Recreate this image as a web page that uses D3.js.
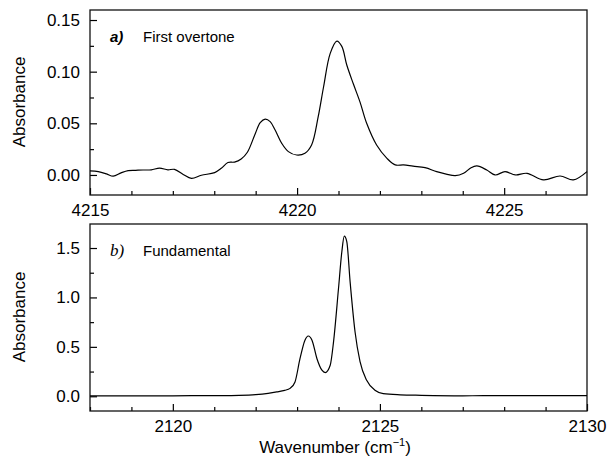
<!DOCTYPE html>
<html><head><meta charset="utf-8">
<script src="https://cdn.jsdelivr.net/npm/d3@7"></script>
<style>
body{margin:0;background:#fff}
svg{display:block}
text{font-family:"Liberation Sans",Arial,Helvetica,sans-serif;fill:#000}
</style>
</head><body>
<svg id="chart" width="607" height="457"></svg>
<script>
// ---- Data ----
const overtoneWavenumber = [4215.00,4215.20,4215.40,4215.56,4215.75,4215.92,4216.10,4216.28,4216.48,4216.68,4216.88,4217.04,4217.25,4217.45,4217.69,4218.01,4218.17,4218.33,4218.49,4218.65,4218.80,4218.99,4219.11,4219.23,4219.35,4219.47,4219.63,4219.79,4219.99,4220.19,4220.35,4220.51,4220.64,4220.80,4220.96,4221.08,4221.20,4221.36,4221.52,4221.68,4221.92,4222.17,4222.37,4222.57,4222.80,4223.09,4223.37,4223.60,4223.82,4224.02,4224.20,4224.34,4224.58,4224.78,4225.02,4225.27,4225.55,4225.95,4226.35,4226.67,4227.00];
const overtoneAbsorbance = [0.0040,0.0032,0.0010,-0.0012,0.0020,0.0042,0.0045,0.0048,0.0050,0.0066,0.0050,0.0054,0.0005,-0.0033,-0.0003,0.0023,0.0064,0.0120,0.0125,0.0155,0.0220,0.0400,0.0506,0.0540,0.0516,0.0435,0.0306,0.0226,0.0193,0.0210,0.0290,0.0564,0.0854,0.1177,0.1296,0.1245,0.1065,0.0880,0.0705,0.0500,0.0290,0.0161,0.0097,0.0097,0.0085,0.0071,0.0032,0.0008,-0.0007,0.0016,0.0070,0.0087,0.0048,0.0000,0.0032,0.0000,0.0016,-0.0048,-0.0010,-0.0048,0.0032];

const fundamentalWavenumber = [2118.0,2119.0,2120.0,2121.0,2121.6,2122.0,2122.3,2122.51,2122.70,2122.83,2122.95,2123.07,2123.19,2123.27,2123.36,2123.48,2123.60,2123.68,2123.80,2123.88,2124.00,2124.08,2124.14,2124.20,2124.28,2124.40,2124.52,2124.68,2124.88,2125.08,2125.49,2126.0,2127.0,2128.0,2129.0,2130.0];
const fundamentalAbsorbance = [0.005,0.004,0.005,0.007,0.010,0.017,0.030,0.044,0.060,0.080,0.145,0.380,0.568,0.610,0.568,0.380,0.264,0.240,0.314,0.550,1.090,1.460,1.620,1.565,1.160,0.650,0.350,0.162,0.061,0.027,0.015,0.010,0.005,0.007,0.006,0.007];

const overtoneXTicks = [4215,4220,4225];
const overtoneXMinor = [4216,4217,4218,4219,4221,4222,4223,4224,4226];
const overtoneYTicks = [0.00,0.05,0.10,0.15];
const overtoneYMinor = [0.025,0.075,0.125];

const fundamentalXTicks = [2120,2125,2130];
const fundamentalXMinor = [2118,2119,2121,2122,2123,2124,2126,2127,2128,2129];
const fundamentalYTicks = [0.0,0.5,1.0,1.5];
const fundamentalYMinor = [0.25,0.75,1.25];

const svg = d3.select("#chart");

function panel(o){
  const x = d3.scaleLinear().domain(o.xDomain).range([o.left, o.right]);
  const y = d3.scaleLinear().domain(o.yDomain).range([o.bottom, o.top]);
  const g = svg.append("g");

  g.append("g").attr("transform",`translate(0,${o.bottom})`)
    .call(d3.axisBottom(x).tickValues(o.xMinor).tickSize(-4).tickFormat(""))
    .call(s=>s.select(".domain").remove());
  g.append("g").attr("transform",`translate(${o.left},0)`)
    .call(d3.axisLeft(y).tickValues(o.yMinor).tickSize(-4).tickFormat(""))
    .call(s=>s.select(".domain").remove());

  g.append("g").attr("transform",`translate(0,${o.bottom})`)
    .call(d3.axisBottom(x).tickValues(o.xTicks).tickSize(-7).tickPadding(9).tickFormat(d3.format("d")))
    .call(s=>s.select(".domain").remove())
    .call(s=>s.selectAll("text").style("font-size","17px"));
  g.append("g").attr("transform",`translate(${o.left},0)`)
    .call(d3.axisLeft(y).tickValues(o.yTicks).tickSize(-7).tickPadding(10).tickFormat(d3.format(o.yFmt)))
    .call(s=>s.select(".domain").remove())
    .call(s=>s.selectAll("text").style("font-size","17px"));

  g.selectAll(".tick line").attr("stroke","#000").attr("stroke-width",1.2);

  g.append("rect").attr("x",o.left).attr("y",o.top)
    .attr("width",o.right-o.left).attr("height",o.bottom-o.top)
    .attr("fill","none").attr("stroke","#111").attr("stroke-width",1.3);

  const pts = o.xs.map((v,i)=>[v,o.ys[i]]);
  g.append("path").datum(pts)
    .attr("fill","none").attr("stroke","#000").attr("stroke-width",1.2)
    .attr("d", d3.line().x(d=>x(d[0])).y(d=>y(d[1])).curve(o.curve));

  g.append("text").attr("transform",`translate(25,${o.ylabY}) rotate(-90)`)
    .attr("text-anchor","middle").style("font-size","17px").text("Absorbance");

  g.append("text").attr("x",110).attr("y",o.top+32)
    .style("font-family",o.letterFont).style("font-style","italic")
    .style("font-weight",o.letterWeight).style("font-size",o.letterSize).text(o.letter);
  g.append("text").attr("x",143).attr("y",o.top+32)
    .style("font-size","15px").text(o.title);
}

panel({left:90,right:587,top:10,bottom:195,
  xDomain:[4215,4227], yDomain:[-0.0194,0.1597],
  xTicks:overtoneXTicks, xMinor:overtoneXMinor, yTicks:overtoneYTicks, yMinor:overtoneYMinor,
  yFmt:".2f", xs:overtoneWavenumber, ys:overtoneAbsorbance, ylabY:102, letter:"a)", title:"First overtone",
  letterFont:"'Liberation Sans',Arial,sans-serif", letterWeight:"bold", letterSize:"15px",
  curve:d3.curveCatmullRom.alpha(0.5)});

panel({left:90,right:587,top:224,bottom:411,
  xDomain:[2118,2130], yDomain:[-0.149,1.743],
  xTicks:fundamentalXTicks, xMinor:fundamentalXMinor, yTicks:fundamentalYTicks, yMinor:fundamentalYMinor,
  yFmt:".1f", xs:fundamentalWavenumber, ys:fundamentalAbsorbance, ylabY:317, letter:"b)", title:"Fundamental",
  letterFont:"'Liberation Serif','Times New Roman',serif", letterWeight:"normal", letterSize:"17px",
  curve:d3.curveMonotoneX});

const t = svg.append("text").attr("x",335).attr("y",453).attr("text-anchor","middle").style("font-size","17px");
t.append("tspan").text("Wavenumber (cm");
t.append("tspan").attr("dy",-7).style("font-size","11px").text("−1");
t.append("tspan").attr("dy",7).text(")");
</script>
</body></html>
